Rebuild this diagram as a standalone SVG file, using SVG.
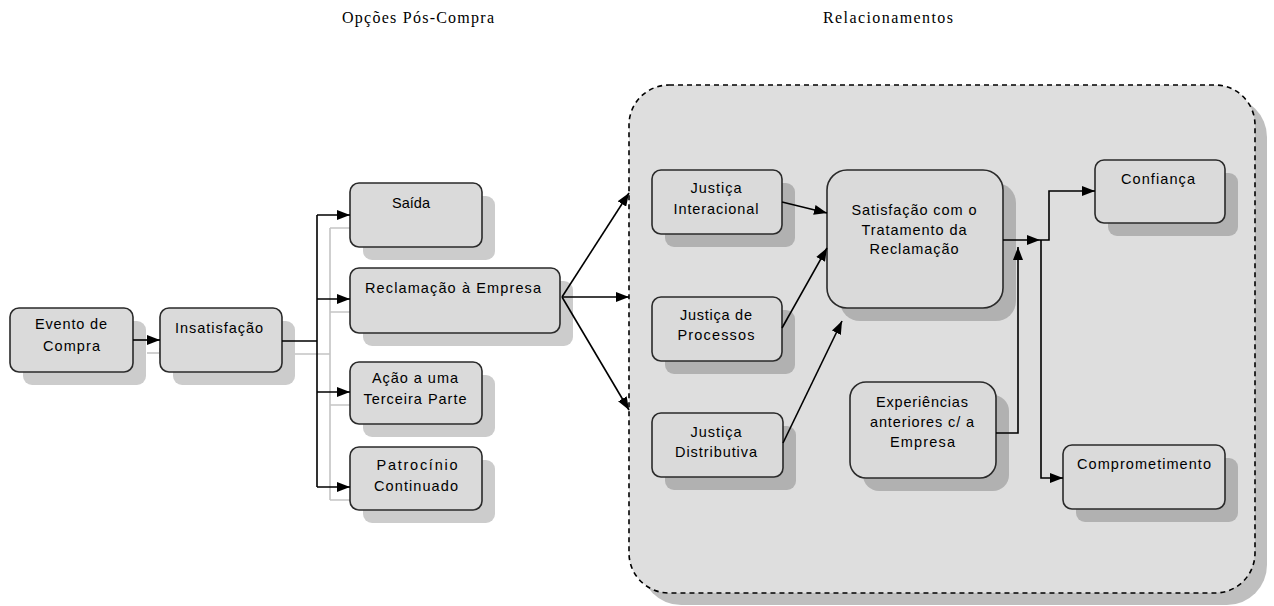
<svg xmlns="http://www.w3.org/2000/svg" width="1274" height="606" viewBox="0 0 1274 606">
<defs>
<marker id="ah" markerUnits="userSpaceOnUse" markerWidth="13" markerHeight="10" refX="13" refY="5" orient="auto"><path d="M0,0 L13,5 L0,10 z" fill="#000"/></marker>
<marker id="ahg" markerUnits="userSpaceOnUse" markerWidth="13" markerHeight="10" refX="13" refY="5" orient="auto"><path d="M0,0 L13,5 L0,10 z" fill="#c4c4c4"/></marker>
</defs>
<style>
.title{font-family:"Liberation Serif","Times New Roman",serif;font-size:16px;fill:#000;text-anchor:middle}
.lbl{font-family:"Liberation Sans",Arial,sans-serif;font-size:14.5px;fill:#000;text-anchor:middle}
.box{fill:#dadada;stroke:#2a2a2a;stroke-width:1.6}
.shd{fill:#000;fill-opacity:0.2}
.c{fill:none;stroke:#000;stroke-width:1.6}
.cg{fill:none;stroke:#c4c4c4;stroke-width:1.6}
</style>
<rect width="1274" height="606" fill="#fff"/>
<text class="title" x="418" y="23" textLength="152">Opções Pós-Compra</text>
<text class="title" x="888" y="23" textLength="130">Relacionamentos</text>

<g id="container">
<rect x="641" y="97" width="626" height="508" rx="40" fill="#000" fill-opacity="0.25"/>
<rect x="629" y="85" width="626" height="508" rx="40" fill="#dedede" stroke="#000" stroke-width="1.6" stroke-dasharray="5,4"/>
</g>

<g id="connector-shadows">
<path class="cg" d="M147,353 H172" marker-end="url(#ahg)"/>
<path class="cg" d="M295,354 H330 M330,228 V500"/>
<path class="cg" d="M330,228 H363" marker-end="url(#ahg)"/>
<path class="cg" d="M330,312 H363" marker-end="url(#ahg)"/>
<path class="cg" d="M330,405 H363" marker-end="url(#ahg)"/>
<path class="cg" d="M330,500 H363" marker-end="url(#ahg)"/>
</g>

<g id="evento">
<rect class="shd" x="23" y="321" width="123" height="64" rx="9"/>
<rect class="box" x="10" y="308" width="123" height="64" rx="9"/>
<text class="lbl" x="71" y="329" textLength="72">Evento de</text>
<text class="lbl" x="71.5" y="351" textLength="57">Compra</text>
</g>
<g id="insatisfacao">
<rect class="shd" x="173" y="321" width="122" height="64" rx="9"/>
<rect class="box" x="160" y="308" width="122" height="64" rx="9"/>
<text class="lbl" x="219" y="333" textLength="88">Insatisfação</text>
</g>
<g id="saida">
<rect class="shd" x="363" y="196" width="132" height="64" rx="9"/>
<rect class="box" x="350" y="183" width="132" height="64" rx="9"/>
<text class="lbl" x="411" y="208" textLength="38">Saída</text>
</g>
<g id="reclamacao">
<rect class="shd" x="363" y="281" width="210" height="65" rx="9"/>
<rect class="box" x="350" y="268" width="210" height="65" rx="9"/>
<text class="lbl" x="453" y="293" textLength="176">Reclamação à Empresa</text>
</g>
<g id="acao">
<rect class="shd" x="363" y="375" width="132" height="62" rx="9"/>
<rect class="box" x="350" y="362" width="132" height="62" rx="9"/>
<text class="lbl" x="415" y="383" textLength="86">Ação a uma</text>
<text class="lbl" x="415" y="404" textLength="103">Terceira Parte</text>
</g>
<g id="patrocinio">
<rect class="shd" x="363" y="460" width="132" height="63" rx="9"/>
<rect class="box" x="350" y="447" width="132" height="63" rx="9"/>
<text class="lbl" x="417" y="470" textLength="81">Patrocínio</text>
<text class="lbl" x="416" y="491" textLength="84">Continuado</text>
</g>

<g id="j-interacional">
<rect class="shd" x="665" y="183" width="130" height="64" rx="9"/>
<rect class="box" x="652" y="170" width="130" height="64" rx="9"/>
<text class="lbl" x="716" y="193" textLength="51">Justiça</text>
<text class="lbl" x="716" y="214" textLength="85">Interacional</text>
</g>
<g id="j-processos">
<rect class="shd" x="665" y="310" width="130" height="64" rx="9"/>
<rect class="box" x="652" y="297" width="130" height="64" rx="9"/>
<text class="lbl" x="716" y="320" textLength="72">Justiça de</text>
<text class="lbl" x="716" y="340" textLength="77">Processos</text>
</g>
<g id="j-distributiva">
<rect class="shd" x="665" y="426" width="131" height="64" rx="9"/>
<rect class="box" x="652" y="413" width="131" height="64" rx="9"/>
<text class="lbl" x="716" y="437" textLength="51">Justiça</text>
<text class="lbl" x="716" y="457" textLength="82">Distributiva</text>
</g>
<g id="satisfacao">
<rect class="shd" x="840" y="183" width="176" height="138" rx="20"/>
<rect class="box" x="827" y="170" width="176" height="138" rx="20"/>
<text class="lbl" x="914" y="215" textLength="125">Satisfação com o</text>
<text class="lbl" x="914" y="235" textLength="105">Tratamento da</text>
<text class="lbl" x="914" y="254" textLength="89">Reclamação</text>
</g>
<g id="experiencias">
<rect class="shd" x="863" y="395" width="146" height="96" rx="16"/>
<rect class="box" x="850" y="382" width="146" height="96" rx="16"/>
<text class="lbl" x="922" y="407" textLength="92">Experiências</text>
<text class="lbl" x="922" y="427" textLength="104">anteriores c/ a</text>
<text class="lbl" x="922.5" y="447" textLength="65">Empresa</text>
</g>
<g id="confianca">
<rect class="shd" x="1108" y="173" width="130" height="63" rx="9"/>
<rect class="box" x="1095" y="160" width="130" height="63" rx="9"/>
<text class="lbl" x="1158" y="184" textLength="74">Confiança</text>
</g>
<g id="comprometimento">
<rect class="shd" x="1076" y="458" width="162" height="64" rx="9"/>
<rect class="box" x="1063" y="445" width="162" height="64" rx="9"/>
<text class="lbl" x="1144" y="469" textLength="134">Comprometimento</text>
</g>

<g id="connectors">
<path class="c" d="M133,340 H160" marker-end="url(#ah)"/>
<path class="c" d="M282,341 H317 M317,215 V487"/>
<path class="c" d="M317,215 H350" marker-end="url(#ah)"/>
<path class="c" d="M317,299 H350" marker-end="url(#ah)"/>
<path class="c" d="M317,392 H350" marker-end="url(#ah)"/>
<path class="c" d="M317,487 H350" marker-end="url(#ah)"/>
<path class="c" d="M562,297 L629,193" marker-end="url(#ah)"/>
<path class="c" d="M562,297 H629" marker-end="url(#ah)"/>
<path class="c" d="M562,297 L629,410" marker-end="url(#ah)"/>
<path class="c" d="M782,202 L827,213" marker-end="url(#ah)"/>
<path class="c" d="M782,328 L827,248" marker-end="url(#ah)"/>
<path class="c" d="M783,443 L842,321" marker-end="url(#ah)"/>
<path class="c" d="M1003,240 H1040" marker-end="url(#ah)"/>
<path class="c" d="M1040,240 H1049 V191 H1095" marker-end="url(#ah)"/>
<path class="c" d="M1041,240 V478 H1063" marker-end="url(#ah)"/>
<path class="c" d="M996,433 H1018 V247" marker-end="url(#ah)"/>
</g>
</svg>
